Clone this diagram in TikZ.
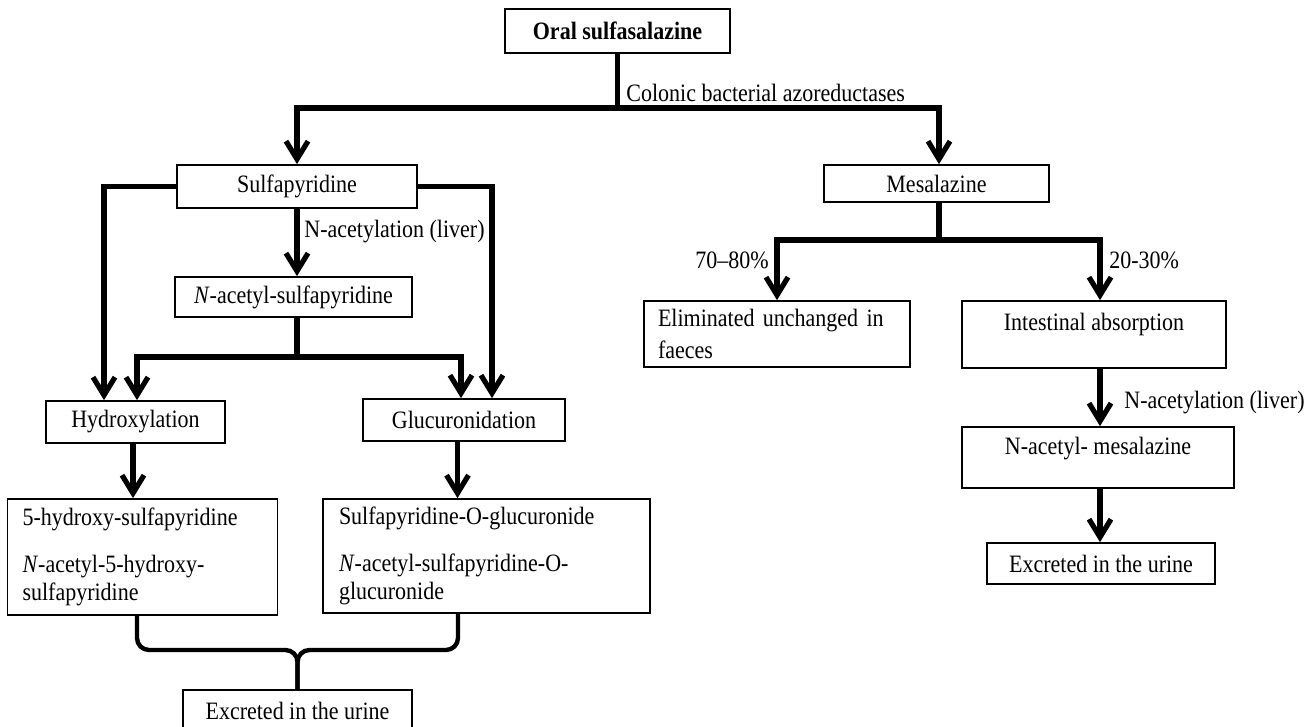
\documentclass[tikz,border=0pt]{standalone}
\usepackage{fontspec}
\setmainfont{Liberation Serif}[FakeStretch=0.88]
\usetikzlibrary{arrows.meta}
\begin{document}
\begin{tikzpicture}[x=0.5pt,y=-0.5pt,
  txt/.style={font=\fontsize{12.5}{14}\selectfont},
  box/.style={draw, line width=0.85pt, inner sep=0pt, txt},
  conn/.style={line width=2.6pt},
  arr/.style={conn, -{Straight Barb[length=9pt,width=11pt]}},
  brc/.style={line width=2.2pt, rounded corners=6pt},
  lbl/.style={inner sep=0pt, txt}]
\fill[white] (0,0) rectangle (1316,727);
\useasboundingbox (0,0) rectangle (1316,727);
% helper coordinates
\coordinate (yA) at (0,108);
\coordinate (yB) at (0,357);
\coordinate (yC) at (0,240);
\coordinate (yD) at (0,650);
\coordinate (xL) at (104,0);
\coordinate (xR) at (492,0);
\coordinate (xh) at (137,0);
\coordinate (xg) at (461,0);
\coordinate (xh2) at (133,0);
\coordinate (xg2) at (457.5,0);
\coordinate (xbl) at (137,0);
\coordinate (xbr) at (458,0);
\coordinate (xm) at (939,0);
\coordinate (xi) at (1100,0);
% nodes
\node[box, minimum width=112.5pt, minimum height=22pt, font=\fontsize{12.5}{14}\selectfont\bfseries] (oral) at (617.5,31) {Oral sulfasalazine};
\node[box, minimum width=120pt, minimum height=21.5pt] (sulfa) at (297,186.5) {Sulfapyridine};
\node[box, minimum width=112.5pt, minimum height=18.5pt] (mesa) at (936.5,183.5) {Mesalazine};
\node[box, minimum width=118.5pt, minimum height=20pt] (nacs) at (293.5,297) {\textit{N}-acetyl-sulfapyridine};
\node[box, minimum width=89.5pt, minimum height=21pt] (hydro) at (135.5,422) {Hydroxylation};
\node[box, minimum width=101pt, minimum height=21pt] (gluc) at (464,420) {Glucuronidation};
\node[box, minimum height=58pt, text width=120pt, align=left, inner xsep=7.5pt] (hyprod) at (142.5,557)
  {5-hydroxy-sulfapyridine\\[9.5pt]\textit{N}-acetyl-5-hydroxy-\\sulfapyridine};
\node[box, minimum height=57pt, text width=147.5pt, align=left, inner xsep=8pt] (glprod) at (486.5,556)
  {Sulfapyridine-O-glucuronide\\[9.5pt]\textit{N}-acetyl-sulfapyridine-O-\\glucuronide};
\node[box, text height=14.5pt, text depth=8pt, minimum width=114.5pt] (exl) at (297.5,712.5) {Excreted in the urine};
\node[box, minimum height=33pt, text width=119pt, align=left, inner xsep=7pt] (elim) at (777,334)
  {Eliminated unchanged in\\[2pt]faeces};
\node[box, minimum width=132pt, text height=14.5pt, text depth=19pt] (intest) at (1094,334.5) {Intestinal absorption};
\node[box, minimum width=136pt, text height=13.5pt, text depth=17pt] (nacm) at (1098,457.5) {N-acetyl- mesalazine};
\node[box, minimum width=114pt, minimum height=20.5pt] (exr) at (1101,563.5) {Excreted in the urine};
% labels
\node[lbl, anchor=west] (lcol) at (626,93) {Colonic bacterial azoreductases};
\node[lbl, anchor=west] (lna1) at (304,232) {N-acetylation (liver)};
\node[lbl, anchor=east] (l70) at (769,260) {70--80\%};
\node[lbl, anchor=west] (l20) at (1109,260) {20-30\%};
\node[lbl, anchor=west] (lna2) at (1124,403) {N-acetylation (liver)};
% connectors
\draw[conn] (oral.south) -- (oral.south |- yA) coordinate (sA);
\draw[arr] (sA) -| (sulfa.north);
\draw[arr] (sA) -| (mesa.north -| xm);
\draw[arr] (sulfa.south) -- (nacs.north -| sulfa.south);
\draw[arr] (sulfa.west) -| (hydro.north -| xL);
\draw[arr] (sulfa.east) -| (gluc.north -| xR);
\draw[conn] (nacs.south -| sulfa.south) -- (yB -| sulfa.south) coordinate (sB);
\draw[arr] (sB) -| (hydro.north -| xh);
\draw[arr] (sB) -| (gluc.north -| xg);
\draw[arr] (hydro.south -| xh2) -- (hyprod.north -| xh2);
\draw[arr] (gluc.south -| xg2) -- (glprod.north -| xg2);
\draw[brc] (hyprod.south -| xbl) |- (yD -| exl.north) -- (exl.north);
\draw[brc] (glprod.south -| xbr) |- (yD -| exl.north) -- (exl.north);
\draw[conn] (mesa.south -| xm) -- (yC -| xm) coordinate (sC);
\draw[arr] (sC) -| (elim.north);
\draw[arr] (sC) -| (intest.north -| xi);
\draw[arr] (intest.south -| xi) -- (nacm.north -| xi);
\draw[arr] (nacm.south -| xi) -- (exr.north -| xi);
\end{tikzpicture}
\end{document}
